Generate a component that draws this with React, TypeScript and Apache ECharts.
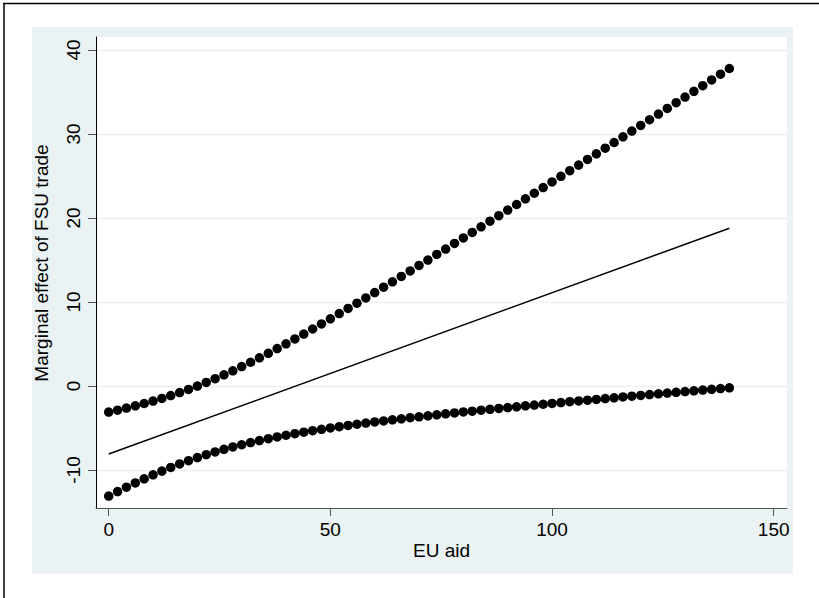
import React, { useEffect, useRef } from "react";
import * as echarts from "echarts";

const aid = [0, 2, 4, 6, 8, 10, 12, 14, 16, 18, 20, 22, 24, 26, 28, 30, 32, 34, 36, 38, 40, 42, 44, 46, 48, 50, 52, 54, 56, 58, 60, 62, 64, 66, 68, 70, 72, 74, 76, 78, 80, 82, 84, 86, 88, 90, 92, 94, 96, 98, 100, 102, 104, 106, 108, 110, 112, 114, 116, 118, 120, 122, 124, 126, 128, 130, 132, 134, 136, 138, 140];

const upperCI = [-3.10, -2.87, -2.62, -2.36, -2.08, -1.79, -1.47, -1.13, -0.78, -0.40, 0.00, 0.43, 0.87, 1.33, 1.81, 2.31, 2.83, 3.36, 3.90, 4.46, 5.03, 5.60, 6.19, 6.79, 7.39, 8.00, 8.62, 9.24, 9.86, 10.49, 11.13, 11.77, 12.41, 13.05, 13.70, 14.35, 15.00, 15.66, 16.31, 16.97, 17.63, 18.29, 18.95, 19.62, 20.28, 20.95, 21.61, 22.28, 22.95, 23.62, 24.29, 24.96, 25.63, 26.30, 26.97, 27.65, 28.32, 28.99, 29.67, 30.35, 31.02, 31.70, 32.37, 33.05, 33.73, 34.40, 35.08, 35.76, 36.44, 37.12, 37.80];

const lowerCI = [-13.10, -12.56, -12.04, -11.53, -11.04, -10.57, -10.12, -9.69, -9.28, -8.89, -8.52, -8.17, -7.85, -7.54, -7.25, -6.99, -6.73, -6.49, -6.27, -6.06, -5.86, -5.67, -5.49, -5.31, -5.15, -4.99, -4.84, -4.69, -4.55, -4.41, -4.28, -4.15, -4.02, -3.90, -3.77, -3.66, -3.54, -3.43, -3.31, -3.20, -3.09, -2.99, -2.88, -2.77, -2.67, -2.57, -2.47, -2.36, -2.26, -2.17, -2.07, -1.97, -1.87, -1.78, -1.68, -1.59, -1.49, -1.40, -1.30, -1.21, -1.12, -1.02, -0.93, -0.84, -0.75, -0.66, -0.57, -0.48, -0.39, -0.30, -0.21];

const effectX = [0, 140];
const effectY = [-8.1, 18.79];

const xTicks = [0, 50, 100, 150];
const yTicks = [-10, 0, 10, 20, 30, 40];

const FONT = "'Liberation Sans', Arial, Helvetica, sans-serif";

export default function App() {
  const ref = useRef<HTMLDivElement>(null);

  useEffect(() => {
    if (!ref.current) return;
    const chart = echarts.init(ref.current, null, { renderer: "svg" });
    chart.setOption({
      animation: false,
      backgroundColor: "#ffffff",
      graphic: [
        {
          type: "rect",
          z: -10,
          shape: { x: 32, y: 27, width: 761, height: 547 },
          style: { fill: "#EAF2F3" },
          silent: true,
        },
        {
          type: "line",
          shape: { x1: 3, y1: 3.5, x2: 819, y2: 3.5 },
          style: { stroke: "#000", lineWidth: 1.5 },
          silent: true,
        },
        {
          type: "line",
          shape: { x1: 4, y1: 3, x2: 4, y2: 598 },
          style: { stroke: "#000", lineWidth: 1.5 },
          silent: true,
        },
        {
          type: "text",
          x: 441.5,
          y: 550,
          style: {
            text: "EU aid",
            fontSize: 19,
            fontFamily: FONT,
            fill: "#000",
            textAlign: "center",
            textVerticalAlign: "middle",
          },
          silent: true,
        },
        {
          type: "text",
          x: 41,
          y: 263,
          rotation: Math.PI / 2,
          style: {
            text: "Marginal effect of FSU trade",
            fontSize: 19,
            fontFamily: FONT,
            fill: "#000",
            textAlign: "center",
            textVerticalAlign: "middle",
          },
          silent: true,
        },
      ],
      grid: {
        left: 96,
        top: 37,
        width: 691,
        height: 471,
        show: true,
        backgroundColor: "#ffffff",
        borderWidth: 0,
      },
      xAxis: {
        type: "value",
        min: -2.865,
        max: 153.0,
        axisLine: { show: true, onZero: false, lineStyle: { color: "#555", width: 1 } },
        axisTick: { show: true, length: 8, customValues: xTicks, lineStyle: { color: "#555", width: 1 } },
        axisLabel: {
          customValues: xTicks,
          fontSize: 19,
          fontFamily: FONT,
          color: "#000",
          margin: 12,
        },
        splitLine: { show: false },
      },
      yAxis: {
        type: "value",
        min: -14.52,
        max: 41.55,
        axisLine: { show: true, onZero: false, lineStyle: { color: "#000", width: 1 } },
        axisTick: { show: true, length: 8, customValues: yTicks, lineStyle: { color: "#555", width: 1 } },
        axisLabel: {
          customValues: yTicks,
          fontSize: 19,
          fontFamily: FONT,
          color: "#000",
          rotate: 90,
          margin: 13,
        },
        splitLine: { show: true, lineStyle: { color: "#EAF2F3", width: 1.3 } },
      },
      series: [
        {
          type: "line",
          data: effectX.map((x, i) => [x, effectY[i]]),
          symbol: "none",
          lineStyle: { color: "#000", width: 1.5 },
          silent: true,
        },
        {
          type: "scatter",
          data: aid.map((x, i) => [x, upperCI[i]]),
          symbol: "circle",
          symbolSize: 9.5,
          itemStyle: { color: "#000", opacity: 1 },
          silent: true,
        },
        {
          type: "scatter",
          data: aid.map((x, i) => [x, lowerCI[i]]),
          symbol: "circle",
          symbolSize: 9.5,
          itemStyle: { color: "#000", opacity: 1 },
          silent: true,
        },
      ],
    });
    return () => chart.dispose();
  }, []);

  return (
    <div
      ref={ref}
      style={{ position: "fixed", left: 0, top: 0, width: 819, height: 598 }}
    />
  );
}
